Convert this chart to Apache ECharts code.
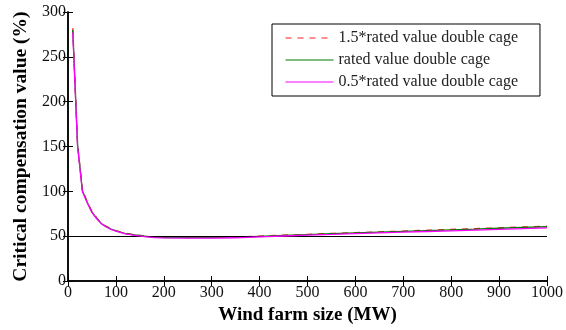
<!DOCTYPE html>
<html>
<head>
<meta charset="utf-8">
<script src="https://cdn.jsdelivr.net/npm/echarts@6/dist/echarts.min.js"></script>
<style>
  html, body { margin: 0; padding: 0; background: #fff; }
  #chart { width: 566px; height: 330px; }
</style>
</head>
<body>
<div id="chart"></div>
<script>
// Wind farm size (MW)
const windFarmSize = [10, 20, 30, 40, 50, 60, 70, 80, 90, 100, 120, 140, 160, 180, 200, 250, 300, 350, 400, 450, 500, 550, 600, 650, 700, 750, 800, 850, 900, 950, 1000];

// Critical compensation value (%) for each rotor parameter case
const highCage = [282, 153, 102, 88.5, 77.5, 70.5, 64.5, 61, 58.5, 56.3, 53.3, 51.6, 50.2, 49.3, 48.9, 48.6, 48.8, 49.1, 50.1, 51.2, 52.2, 53.1, 54, 54.9, 55.8, 56.7, 57.6, 58.5, 59.4, 60.3, 61.2];
const ratedCage = [280, 152, 101, 88, 77, 70, 64, 60.6, 58, 56, 53, 51.4, 50, 49, 48.6, 48.4, 48.6, 48.9, 49.9, 50.9, 51.9, 52.8, 53.7, 54.6, 55.4, 56.3, 57.2, 58, 58.9, 59.8, 60.6];
const lowCage = [277, 150, 100, 87.5, 76.5, 69.5, 63.8, 60.3, 57.7, 55.7, 52.7, 51, 49.5, 48.5, 48.1, 47.9, 48, 48.3, 49.4, 50.3, 51.2, 52, 52.9, 53.7, 54.5, 55.3, 56.1, 56.9, 57.7, 58.5, 59.3];

const seriesNames = ['1.5*rated value double cage', 'rated value double cage', '0.5*rated value double cage'];
const referenceLevel = 50;

const font = '"Liberation Serif", "Times New Roman", serif';

const pair = (ys) => windFarmSize.map((x, i) => [x, ys[i]]);

const chart = echarts.init(document.getElementById('chart'), null, { renderer: 'canvas' });

const baseAxis = {
  axisLine: { show: true, lineStyle: { color: '#000', width: 1.5 } },
  axisTick: { show: true, inside: true, length: 5, lineStyle: { color: '#000', width: 1 } },
  splitLine: { show: false }
};

chart.setOption({
  animation: false,
  backgroundColor: '#fff',
  grid: { left: 68, right: 15, top: 12, bottom: 46, containLabel: false },
  legend: {
    orient: 'vertical',
    left: 272,
    top: 24,
    padding: [6, 22, 6, 13],
    itemWidth: 48,
    itemHeight: 14,
    itemGap: 6,
    borderColor: '#000',
    borderWidth: 1,
    borderRadius: 0,
    backgroundColor: '#fff',
    itemStyle: { opacity: 0 },
    lineStyle: { width: 1 },
    textStyle: { fontFamily: font, fontSize: 16, lineHeight: 14, color: '#222' },
    data: seriesNames
  },
  xAxis: [
    Object.assign({}, baseAxis, {
      type: 'value', min: 0, max: 1000, interval: 100, position: 'bottom',
      name: 'Wind farm size (MW)', nameLocation: 'middle', nameGap: 22,
      nameTextStyle: { fontFamily: font, fontSize: 19, fontWeight: 'bold', color: '#000' },
      axisLabel: { fontFamily: font, fontSize: 16, color: '#111', margin: 4, formatter: (v) => String(v) }
    }),
    Object.assign({}, baseAxis, {
      type: 'value', min: 0, max: 1000, interval: 100, position: 'top',
      axisLabel: { show: false }
    })
  ],
  yAxis: [
    Object.assign({}, baseAxis, {
      type: 'value', min: 0, max: 300, interval: 50, position: 'left',
      name: 'Critical compensation value (%)', nameLocation: 'middle', nameGap: 36,
      nameTextStyle: { fontFamily: font, fontSize: 19.5, fontWeight: 'bold', color: '#000' },
      axisLabel: { fontFamily: font, fontSize: 16, color: '#111', margin: 2 }
    }),
    Object.assign({}, baseAxis, {
      type: 'value', min: 0, max: 300, interval: 50, position: 'right',
      axisLabel: { show: false }
    })
  ],
  series: [
    {
      name: seriesNames[0], type: 'line', showSymbol: false, symbol: 'none',
      data: pair(highCage),
      lineStyle: { color: '#ff2020', width: 1.3, type: [6, 6] },
      itemStyle: { color: '#ff2020' },
      z: 3,
      markLine: {
        silent: true, symbol: 'none', label: { show: false },
        lineStyle: { color: '#000', width: 1.2, type: 'solid' },
        data: [{ yAxis: referenceLevel }]
      }
    },
    {
      name: seriesNames[1], type: 'line', showSymbol: false, symbol: 'none',
      data: pair(ratedCage),
      lineStyle: { color: '#007a00', width: 1.3 },
      itemStyle: { color: '#007a00' },
      z: 4
    },
    {
      name: seriesNames[2], type: 'line', showSymbol: false, symbol: 'none',
      data: pair(lowCage),
      lineStyle: { color: '#ff00ff', width: 1.3 },
      itemStyle: { color: '#ff00ff' },
      z: 5
    }
  ]
});
</script>
</body>
</html>
